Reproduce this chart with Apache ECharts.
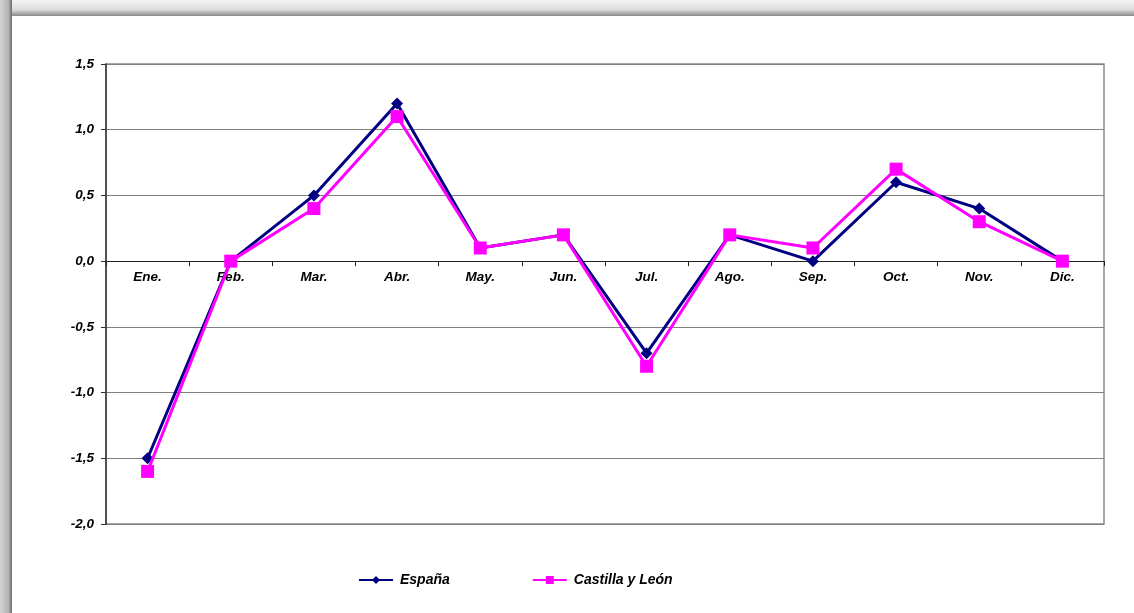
<!DOCTYPE html>
<html>
<head>
<meta charset="utf-8">
<script src="https://cdn.jsdelivr.net/npm/echarts@6/dist/echarts.min.js"></script>
<style>
html,body{margin:0;padding:0;width:1134px;height:613px;overflow:hidden;background:#fff;}
#frameTop{position:absolute;left:0;top:0;width:1134px;height:16px;background:linear-gradient(to bottom,#f6f6f6 0%,#dcdcdc 60%,#8a8a8a 100%);}
#frameLeft{position:absolute;left:0;top:0;width:12px;height:613px;background:linear-gradient(to right,#d4d4d4 0%,#b4b4b4 70%,#6a6a6a 100%);}
#chart{position:absolute;left:0;top:0;width:1134px;height:613px;}
</style>
</head>
<body>
<div id="frameTop"></div>
<div id="frameLeft"></div>
<div id="chart"></div>
<script>
var categories = ['Ene.','Feb.','Mar.','Abr.','May.','Jun.','Jul.','Ago.','Sep.','Oct.','Nov.','Dic.'];
var espana = [-1.5, 0, 0.5, 1.2, 0.1, 0.2, -0.7, 0.2, 0, 0.6, 0.4, 0];
var castilla = [-1.6, 0, 0.4, 1.1, 0.1, 0.2, -0.8, 0.2, 0.1, 0.7, 0.3, 0];
var seriesNames = ['España', 'Castilla y León'];
var yMin = -2, yMax = 1.5;

var fontFam = '"Liberation Sans", Arial, sans-serif';
var gridTop = 64, gridBottom = 89, chartH = 613;
var plotH = chartH - gridTop - gridBottom;
var zeroFromBottom = plotH * (0 - yMin) / (yMax - yMin);

var chart = echarts.init(document.getElementById('chart'), null, {renderer:'canvas'});
chart.setOption({
  backgroundColor: 'transparent',
  animation: false,
  grid: {left:106, right:30, top:gridTop, bottom:gridBottom, show:true, borderColor:'#8c8c8c', borderWidth:1.5, backgroundColor:'transparent'},
  legend: {
    data: seriesNames,
    left: 358, top: 573, padding: 0,
    itemWidth: 34, itemHeight: 10, itemGap: 82,
    textStyle: {fontFamily: fontFam, fontWeight:'bold', fontStyle:'italic', fontSize:14, color:'#000', padding:[0,0,0,2]}
  },
  xAxis: {
    type: 'category',
    data: categories,
    boundaryGap: true,
    position: 'bottom',
    offset: -zeroFromBottom,
    axisLine: {onZero:false, lineStyle:{color:'#222', width:1}},
    axisTick: {show:true, length:5, inside:false, lineStyle:{color:'#222'}},
    axisLabel: {fontFamily: fontFam, fontWeight:'bold', fontStyle:'italic', fontSize:13.5, color:'#000', margin:9}
  },
  yAxis: {
    type: 'value',
    min: yMin, max: yMax, interval: 0.5,
    axisLine: {show:true, lineStyle:{color:'#333', width:1.5}},
    axisTick: {show:true, length:5, lineStyle:{color:'#333'}},
    splitLine: {show:true, lineStyle:{color:'#808080', width:1}},
    axisLabel: {fontFamily: fontFam, fontWeight:'bold', fontStyle:'italic', fontSize:13.5, color:'#000', margin:12,
      formatter: function(v){ return v.toFixed(1).replace('.', ','); }}
  },
  series: [
    {name: seriesNames[0], type:'line', data: espana, symbol:'diamond', symbolSize:12,
     lineStyle:{color:'#000080', width:3}, itemStyle:{color:'#000080'}, z:2},
    {name: seriesNames[1], type:'line', data: castilla, symbol:'rect', symbolSize:13,
     lineStyle:{color:'#ff00ff', width:3}, itemStyle:{color:'#ff00ff'}, z:3}
  ]
});
</script>
</body>
</html>
